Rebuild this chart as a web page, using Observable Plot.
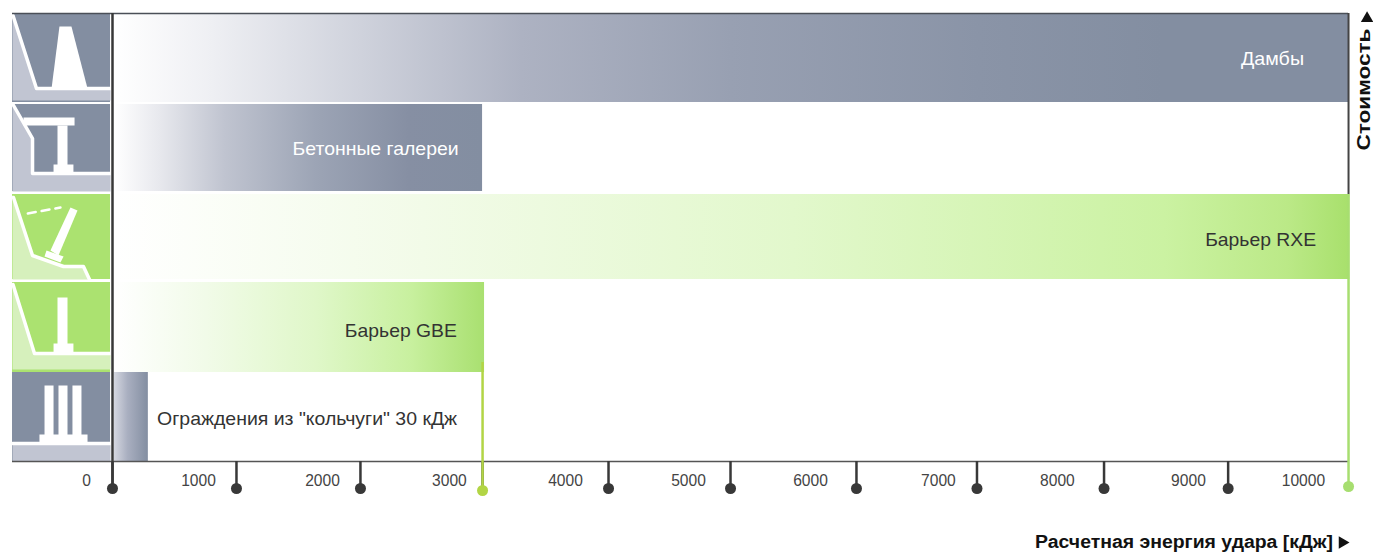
<!DOCTYPE html>
<html><head><meta charset="utf-8">
<script src="https://cdn.jsdelivr.net/npm/d3@7"></script>
<script src="https://cdn.jsdelivr.net/npm/@observablehq/plot@0.6"></script>
<style>html,body{margin:0;padding:0;background:#fff}svg{display:block}</style>
</head><body><div id="chart"></div>
<script>
// Rows of the chart (x in kJ; y = vertical row position)
const rowNames = ["Дамбы","Бетонные галереи","Барьер RXE","Барьер GBE","Ограждения из \"кольчуги\" 30 кДж"];
const rowEnd   = [10000,2994,10010,3010,290];
const rowTop   = [14,104,194,282,372];
const rowBottom= [102,191,279,372,461];
const rowLabelX= [9640,2800,9738,2786,2788];
const rowLabelDy = [0,1,3,3,2];
const rowLabelWidth = [63,166,111,112,300];
const rowLabelColor = ["#fff","#fff","#333","#333","#333"];
const rowIconFill = ["#838ea1","#838ea1","#abe270","#abe270","#838ea1"];
const rowGradient = [
  [[0,"#ffffff"],[0.08,"#eeeff3"],[0.2,"#cfd2dc"],[0.33,"#adb2c2"],[0.5,"#98a0b2"],[0.7,"#8a94a7"],[0.85,"#838ea1"],[1,"#838ea1"]],
  [[0,"#ffffff"],[0.12,"#e8e9ee"],[0.3,"#c0c4d0"],[0.55,"#9ca4b5"],[0.8,"#868fa3"],[1,"#838ea1"]],
  [[0,"#ffffff"],[0.25,"#f2fbe8"],[0.55,"#e2f8cc"],[0.85,"#cbf2a2"],[0.95,"#bbe987"],[1,"#a8e06c"]],
  [[0,"#ffffff"],[0.25,"#f1fbe8"],[0.55,"#dff7c8"],[0.8,"#c8f09f"],[1,"#a9e070"]],
  [[0,"#d5d7e0"],[0.4,"#a9afc0"],[1,"#838ea1"]]
];
const tickValues = [0,1003,2006,2994,4013,5000,6019,6994,8022,9026];
const tickLabels = ["0","1000","2000","3000","4000","5000","6000","7000","8000","9000","10000"];
const tickLabelPos = [-210,696,1699,2726,3665,4660,5647,6682,7645,8705,9635];
const greenTicks = [2994,10000];
const greenTickColors = ["#b2d545","#a7de70"];
const greenTickTop = [362,194];
const xTitle = "Расчетная энергия удара [кДж]";
const yTitle = "Стоимость";

// Pictograms: left column, light ground polygons and white strokes
const iconGround = [
  [[-809,14],[-615,88],[-16,88],[-16,100],[-809,100]],
  [[-809,104],[-647,138],[-647,173],[-16,173],[-16,191],[-809,191]],
  [[-809,194],[-647,255],[-396,266],[-235,266],[-186,279],[-809,279]],
  [[-809,283],[-631,353],[-16,353],[-16,369],[-809,369]],
  [[-809,444],[-16,444],[-16,461],[-809,461]]
];
const iconLines = [
  [[-805,15],[-615,88],[-16,88]],
  [[-805,104],[-647,138],[-647,173],[-16,173]],
  [[-801,197],[-647,255],[-396,266],[-235,266],[-186,279]],
  [[-805,284],[-631,353],[-16,353]],
  [[-809,443],[-16,443]]
];
const iconSolids = [
  [[-429,26],[-332,26],[-202,88],[-493,88]],
  [[-720,117],[-307,117],[-307,125],[-720,125]],
  [[-445,125],[-364,125],[-364,172],[-445,172]],
  [[-477,164],[-316,164],[-316,172],[-477,172]],
  [[-340,207],[-283,210],[-437,255],[-502,250]],
  [[-534,250],[-396,256],[-421,262],[-550,256]],
  [[-445,297],[-364,297],[-364,353],[-445,353]],
  [[-477,343],[-316,343],[-316,353],[-477,353]],
  [[-550,385],[-477,385],[-477,443],[-550,443]],
  [[-437,385],[-364,385],[-364,443],[-437,443]],
  [[-324,385],[-251,385],[-251,443],[-324,443]],
  [[-591,434],[-202,434],[-202,443],[-591,443]]
];
const iconDashes = [[-685,213],[-421,207]];

const rows = rowNames.map((name,i)=>({name,i,end:rowEnd[i],top:rowTop[i],bottom:rowBottom[i],labelX:rowLabelX[i]}));
const pts = a => a.map(([x,y])=>({x,y}));
const font = "Liberation Sans, Arial, sans-serif";

function gradients(){
  const ns="http://www.w3.org/2000/svg";
  const defs=document.createElementNS(ns,"defs");
  rowGradient.forEach((stops,i)=>{
    const g=document.createElementNS(ns,"linearGradient");
    g.setAttribute("id","g"+i);
    stops.forEach(([o,c])=>{
      const s=document.createElementNS(ns,"stop");
      s.setAttribute("offset",o); s.setAttribute("stop-color",c); g.appendChild(s);
    });
    defs.appendChild(g);
  });
  const wrap=document.createElementNS(ns,"g"); wrap.appendChild(defs); return wrap;
}

const marks = [gradients];
rows.forEach(r=>{
  marks.push(Plot.rect([r],{x1:()=>16,x2:"end",y1:"top",y2:"bottom",fill:`url(#g${r.i})`}));
  marks.push(Plot.rect([r],{x1:()=>-809,x2:()=>-16,y1:"top",y2:"bottom",fill:rowIconFill[r.i]}));
  const light = r.i>=2&&r.i<=3 ? "#d6f0bc" : "#c1c5d2";
  marks.push(Plot.line([...pts(iconGround[r.i]),pts(iconGround[r.i])[0]],{x:"x",y:"y",fill:light,stroke:"none"}));
  marks.push(Plot.line(pts(iconLines[r.i]),{x:"x",y:"y",stroke:"#fff",strokeWidth:3.5,curve:"linear"}));
});
iconSolids.forEach(s=>{
  const p=pts(s); marks.push(Plot.line([...p,p[0]],{x:"x",y:"y",fill:"#fff",stroke:"none"}));
});
marks.push(Plot.line(pts(iconDashes),{x:"x",y:"y",stroke:"#fff",strokeWidth:2.5,strokeDasharray:"8,6"}));

// Frame and axis
marks.push(
  Plot.ruleY([13],{x1:-809,x2:10000,stroke:"#4a4f57",strokeWidth:1.5}),
  Plot.ruleX([10000],{y1:13,y2:194,stroke:"#444",strokeWidth:2}),
  Plot.ruleX([0],{y1:13,y2:489,stroke:"#383838",strokeWidth:2.5}),
  Plot.ruleY([461],{x1:-809,x2:10000,stroke:"#555",strokeWidth:1.5}),
  Plot.ruleX(tickValues,{y1:461,y2:488,stroke:"#383838",strokeWidth:2.5}),
  Plot.dot(tickValues.filter(v=>v!==2994),{x:d=>d,y:()=>488,r:5.5,fill:"#383838"}),
  Plot.ruleX(greenTicks,{y1:(d,i)=>greenTickTop[i],y2:()=>486,stroke:(d,i)=>greenTickColors[i],strokeWidth:2.5}),
  Plot.dot(greenTicks,{x:d=>d,y:(d,i)=>i?486:490,r:5.5,fill:(d,i)=>greenTickColors[i]}),
  Plot.text(tickLabels,{x:(d,i)=>tickLabelPos[i],y:()=>480,text:d=>d,fontSize:15.6,fill:"#444",fontFamily:font,lineAnchor:"middle"}),
  Plot.text(rows,{x:"labelX",y:d=>(d.top+d.bottom)/2+rowLabelDy[d.i],text:"name",fill:d=>rowLabelColor[d.i],textAnchor:"end",fontSize:19,fontFamily:font,lineAnchor:"middle"}),
  Plot.text([xTitle],{x:()=>9875,y:()=>542,text:d=>d,textAnchor:"end",fontSize:18,fontWeight:"bold",fill:"#111",fontFamily:font,lineAnchor:"middle"}),
  Plot.dot([0],{x:()=>9950,y:()=>542,symbol:"triangle",rotate:90,r:4.6,fill:"#111"}),
  Plot.text([yTitle],{x:()=>10130,y:()=>150,text:d=>d,rotate:-90,textAnchor:"start",fontSize:18,fontWeight:"bold",fill:"#111",fontFamily:font,lineAnchor:"middle"}),
  Plot.dot([0],{x:()=>10150,y:()=>18,symbol:"triangle",r:4.6,fill:"#111"})
);

const chart = Plot.plot({
  width:1373,height:553,margin:0,
  style:{background:"#fff",fontFamily:font},
  x:{domain:[-906.1,10202],range:[0,1373],axis:null},
  y:{domain:[0,553],range:[0,553],axis:null},
  color:{type:"identity"},
  marks
});
// The reference's lettering is set wider than the installed font: stretch to the measured widths
const widths = new Map([...rowNames.map((n,i)=>[n,rowLabelWidth[i]]),[xTitle,298],[yTitle,122]]);
chart.querySelectorAll("text").forEach(t=>{
  const w = widths.get(t.textContent);
  if(w){ t.setAttribute("textLength",w); t.setAttribute("lengthAdjust","spacingAndGlyphs"); }
});
document.getElementById("chart").appendChild(chart);
</script></body></html>
